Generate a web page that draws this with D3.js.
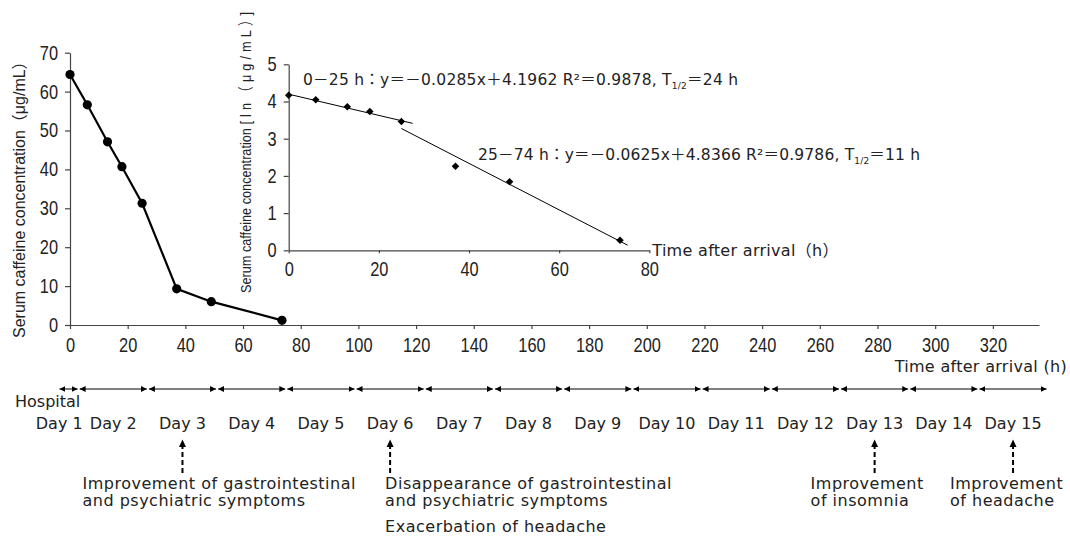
<!DOCTYPE html>
<html>
<head>
<meta charset="utf-8">
<script src="https://cdn.jsdelivr.net/npm/d3@7"></script>
<style>
  html, body { margin: 0; padding: 0; background: #fff; }
  svg { display: block; }
</style>
</head>
<body>
<svg id="chart" width="1070" height="536"></svg>
<script>
// Serum caffeine concentration after arrival, with clinical timeline below

// -----------------------------------------------------------------------------
// DATA
// -----------------------------------------------------------------------------

const HOURS = [0, 6, 13, 18, 25, 37, 49, 73.5];
const CONC = [64.4, 56.6, 47.1, 40.7, 31.3, 9.3, 6.0, 1.2];          // µg/mL
const LN_CONC = [4.17, 4.05, 3.86, 3.73, 3.46, 2.26, 1.84, 0.27];    // ln(µg/mL)

const MAIN_X_TICKS = [0, 20, 40, 60, 80, 100, 120, 140, 160, 180, 200, 220, 240, 260, 280, 300, 320];
const MAIN_Y_TICKS = [0, 10, 20, 30, 40, 50, 60, 70];
const INSET_X_TICKS = [0, 20, 40, 60, 80];
const INSET_Y_TICKS = [0, 1, 2, 3, 4, 5];

// regression fits shown in the inset
const FITS = [
  { from: 0, to: 27.5, slope: -0.0285, icpt: 4.1962, label: '0－25 h：y＝－0.0285x＋4.1962 R²＝0.9878,', half: '24 h' },
  { from: 25, to: 75.2, slope: -0.0625, icpt: 4.8366, label: '25－74 h：y＝－0.0625x＋4.8366 R²＝0.9786,', half: '11 h' }
];

// day boundaries in hours after arrival
const DAY_BOUNDS = [-4, 3, 27, 51, 75, 99, 123, 147, 171, 195, 219, 243, 267, 291, 315, 339];
const DAY_LABELS = ['Day 1', 'Day 2', 'Day 3', 'Day 4', 'Day 5', 'Day 6', 'Day 7', 'Day 8',
  'Day 9', 'Day 10', 'Day 11', 'Day 12', 'Day 13', 'Day 14', 'Day 15'];

const EVENTS = [
  { day: 3, lines: ['Improvement of gastrointestinal', 'and psychiatric symptoms'] },
  { day: 6, lines: ['Disappearance of gastrointestinal', 'and psychiatric symptoms'], extra: 'Exacerbation of headache' },
  { day: 13, lines: ['Improvement', 'of insomnia'] },
  { day: 15, lines: ['Improvement', 'of headache'] }
];

// -----------------------------------------------------------------------------
// SETUP
// -----------------------------------------------------------------------------

const NUM_FONT = "'Liberation Sans',Arial,sans-serif";
const NARROW = 0.82;   // horizontal squeeze to mimic a narrow face
const LBL_FONT = "'Liberation Sans',Arial,'Noto Sans CJK JP',sans-serif";
const TXT_FONT = "'DejaVu Sans','Noto Sans CJK JP',sans-serif";
const AXIS_COLOR = '#444';
const TEXT_COLOR = '#222';

const svg = d3.select('#chart');

const x = d3.scaleLinear().domain([0, 336]).range([70, 1039]);
const y = d3.scaleLinear().domain([0, 70]).range([325, 52.7]);
const ix = d3.scaleLinear().domain([0, 80]).range([288.7, 649.3]);
const iy = d3.scaleLinear().domain([0, 5]).range([250.3, 64.3]);

function styleAxis(g, size) {
  g.select('.domain').attr('stroke', AXIS_COLOR).attr('stroke-width', 1.2);
  g.selectAll('.tick line').attr('stroke', AXIS_COLOR).attr('stroke-width', 1.2);
  g.selectAll('.tick text')
    .attr('font-family', NUM_FONT).attr('font-size', size).attr('fill', TEXT_COLOR)
    .each(function() {
      const t = d3.select(this);
      const tx = +t.attr('x') || 0;
      t.attr('x', tx / NARROW).attr('transform', `scale(${NARROW},1)`);
    });
}

// -----------------------------------------------------------------------------
// MAIN CHART
// -----------------------------------------------------------------------------

const gx = svg.append('g').attr('transform', `translate(0,${y(0)})`)
  .call(d3.axisBottom(x).tickValues(MAIN_X_TICKS).tickFormat(d3.format('d'))
    .tickSize(4).tickPadding(9).tickSizeOuter(0));
styleAxis(gx, 20);

const gy = svg.append('g').attr('transform', `translate(${x(0)},0)`)
  .call(d3.axisLeft(y).tickValues(MAIN_Y_TICKS).tickFormat(d3.format('d'))
    .tickSize(5).tickPadding(7).tickSizeOuter(0));
styleAxis(gy, 20);

svg.append('text')
  .attr('transform', 'translate(25,338) rotate(-90)')
  .attr('font-family', LBL_FONT).attr('font-size', 16).attr('fill', TEXT_COLOR)
  .text('Serum caffeine concentration（μg/mL）');

svg.append('text')
  .attr('x', 1067).attr('y', 371.5).attr('text-anchor', 'end')
  .attr('font-family', TXT_FONT).attr('font-size', 16).attr('letter-spacing', 0.3).attr('fill', TEXT_COLOR)
  .text('Time after arrival (h)');

const mainPts = HOURS.map((h, i) => [h, CONC[i]]);
svg.append('path')
  .datum(mainPts)
  .attr('fill', 'none').attr('stroke', '#000').attr('stroke-width', 2.2)
  .attr('d', d3.line().x(d => x(d[0])).y(d => y(d[1])));
svg.selectAll('circle.pt').data(mainPts).enter().append('circle')
  .attr('class', 'pt')
  .attr('cx', d => x(d[0])).attr('cy', d => y(d[1])).attr('r', 4.6).attr('fill', '#000');

// -----------------------------------------------------------------------------
// INSET
// -----------------------------------------------------------------------------

const igx = svg.append('g').attr('transform', `translate(0,${iy(0)})`)
  .call(d3.axisBottom(ix).tickValues(INSET_X_TICKS).tickFormat(d3.format('d'))
    .tickSize(3).tickPadding(9).tickSizeOuter(0));
styleAxis(igx, 20);

const igy = svg.append('g').attr('transform', `translate(${ix(0)},0)`)
  .call(d3.axisLeft(iy).tickValues(INSET_Y_TICKS).tickFormat(d3.format('d'))
    .tickSize(5).tickPadding(7).tickSizeOuter(0));
styleAxis(igy, 20);

const iyl = svg.append('text')
  .attr('transform', `translate(251,293) rotate(-90) scale(${NARROW},1)`)
  .attr('font-family', LBL_FONT).attr('font-size', 15.5).attr('fill', TEXT_COLOR);
iyl.append('tspan').text('Serum caffeine concentration ');
iyl.append('tspan').attr('letter-spacing', 5).text('[ln（μg/mL）]');

svg.append('text')
  .attr('x', ix(80) + 3).attr('y', 256)
  .attr('font-family', TXT_FONT).attr('font-size', 16).attr('letter-spacing', 0.3).attr('fill', TEXT_COLOR)
  .text('Time after arrival（h）');

FITS.forEach(f => {
  svg.append('line')
    .attr('x1', ix(f.from)).attr('y1', iy(f.icpt + f.slope * f.from))
    .attr('x2', ix(f.to)).attr('y2', iy(f.icpt + f.slope * f.to))
    .attr('stroke', '#000').attr('stroke-width', 1);
});

const diamond = d3.symbol().type(d3.symbolDiamond2).size(36);
svg.selectAll('path.dm').data(HOURS.map((h, i) => [h, LN_CONC[i]])).enter().append('path')
  .attr('class', 'dm')
  .attr('transform', d => `translate(${ix(d[0])},${iy(d[1])})`)
  .attr('d', diamond).attr('fill', '#000');

// equations
const EQ_POS = [{ x: 303, y: 85, w: 435 }, { x: 478, y: 160, w: 442 }];
FITS.forEach((f, i) => {
  const p = EQ_POS[i];
  const t = svg.append('text')
    .attr('x', p.x).attr('y', p.y)
    .attr('font-family', TXT_FONT).attr('font-size', 15.5).attr('fill', TEXT_COLOR)
    .attr('textLength', p.w).attr('lengthAdjust', 'spacing');
  t.append('tspan').text(f.label + '  T');
  t.append('tspan').attr('dy', 4).attr('font-size', 9).text('1/2');
  t.append('tspan').attr('dy', -4).text('＝' + f.half);
});

// -----------------------------------------------------------------------------
// TIMELINE
// -----------------------------------------------------------------------------

const defs = svg.append('defs');
defs.append('marker')
  .attr('id', 'tip').attr('viewBox', '0 0 10 10').attr('refX', 10).attr('refY', 5)
  .attr('markerUnits', 'userSpaceOnUse').attr('markerWidth', 6).attr('markerHeight', 7)
  .attr('orient', 'auto-start-reverse')
  .append('path').attr('d', 'M0,0L10,5L0,10Z').attr('fill', '#000');

const TL_Y = 389;
const segs = DAY_BOUNDS.slice(0, -1).map((b, i) => [b, DAY_BOUNDS[i + 1]]);
svg.selectAll('line.seg').data(segs).enter().append('line')
  .attr('class', 'seg')
  .attr('x1', d => x(d[0]) + 1).attr('x2', d => x(d[1]) - 1)
  .attr('y1', TL_Y).attr('y2', TL_Y)
  .attr('stroke', '#000').attr('stroke-width', 1)
  .attr('marker-start', 'url(#tip)').attr('marker-end', 'url(#tip)');

svg.append('text')
  .attr('x', 15).attr('y', 407)
  .attr('font-family', TXT_FONT).attr('font-size', 16).attr('fill', TEXT_COLOR)
  .text('Hospital');

svg.selectAll('text.day').data(segs).enter().append('text')
  .attr('class', 'day')
  .attr('x', (d, i) => i === 0 ? x(d[1]) + 4 : x((d[0] + d[1]) / 2))
  .attr('y', 429)
  .attr('text-anchor', (d, i) => i === 0 ? 'end' : 'middle')
  .attr('font-family', TXT_FONT).attr('font-size', 16).attr('fill', TEXT_COLOR)
  .text((d, i) => DAY_LABELS[i]);

// event arrows and notes
const EVENT_TEXT_DX = [-100, -5, -64, -63];
EVENTS.forEach((ev, k) => {
  const s = segs[ev.day - 1];
  const ax = x((s[0] + s[1]) / 2);
  svg.append('line')
    .attr('x1', ax).attr('x2', ax).attr('y1', 473).attr('y2', 442)
    .attr('stroke', '#000').attr('stroke-width', 2).attr('stroke-dasharray', '5,3');
  svg.append('path')
    .attr('d', `M${ax},439.5L${ax - 3.5},447L${ax + 3.5},447Z`).attr('fill', '#000');
  const t = svg.append('text')
    .attr('x', ax + EVENT_TEXT_DX[k]).attr('y', 489)
    .attr('font-family', TXT_FONT).attr('font-size', 16).attr('letter-spacing', 0.5).attr('fill', TEXT_COLOR);
  ev.lines.forEach((ln, j) => {
    t.append('tspan').attr('x', ax + EVENT_TEXT_DX[k]).attr('dy', j === 0 ? 0 : 17).text(ln);
  });
  if (ev.extra) {
    svg.append('text')
      .attr('x', ax + EVENT_TEXT_DX[k]).attr('y', 532)
      .attr('font-family', TXT_FONT).attr('font-size', 16).attr('letter-spacing', 0.5).attr('fill', TEXT_COLOR)
      .text(ev.extra);
  }
});
</script>
</body>
</html>
